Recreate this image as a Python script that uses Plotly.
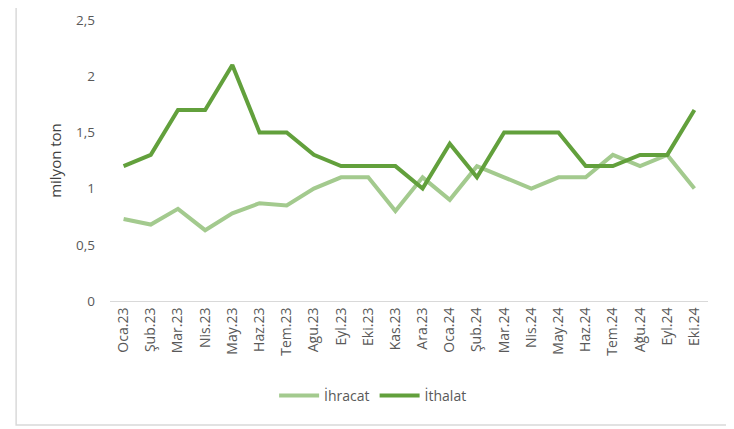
import plotly.graph_objects as go

months = ["Oca.23", "Şub.23", "Mar.23", "Nis.23", "May.23", "Haz.23", "Tem.23", "Agu.23",
          "Eyl.23", "Eki.23", "Kas.23", "Ara.23", "Oca.24", "Şub.24", "Mar.24", "Nis.24",
          "May.24", "Haz.24", "Tem.24", "Ağu.24", "Eyl.24", "Eki.24"]
ihracat = [0.73, 0.68, 0.82, 0.63, 0.78, 0.87, 0.85, 1.0, 1.1, 1.1, 0.8, 1.1,
           0.9, 1.2, 1.1, 1.0, 1.1, 1.1, 1.3, 1.2, 1.3, 1.0]
ithalat = [1.2, 1.3, 1.7, 1.7, 2.1, 1.5, 1.5, 1.3, 1.2, 1.2, 1.2, 1.0,
           1.4, 1.1, 1.5, 1.5, 1.5, 1.2, 1.2, 1.3, 1.3, 1.7]
y_ticks = [0, 0.5, 1, 1.5, 2, 2.5]
y_tick_labels = ["0", "0,5", "1", "1,5", "2", "2,5"]

fig = go.Figure()
fig.add_trace(go.Scatter(x=months, y=ihracat, mode="lines", name="İhracat",
                         line=dict(color="#A3CA8E", width=4)))
fig.add_trace(go.Scatter(x=months, y=ithalat, mode="lines", name="İthalat",
                         line=dict(color="#62A03C", width=4)))

fig.update_layout(
    width=726, height=421,
    margin=dict(l=102, r=26, t=12, b=128),
    paper_bgcolor="white", plot_bgcolor="white",
    font=dict(family="Open Sans, Liberation Sans, sans-serif", size=12, color="#595959"),
    showlegend=True,
    legend=dict(orientation="h", x=0.44, xanchor="center", y=-0.338, yanchor="middle",
                font=dict(size=14, color="#595959"), itemwidth=40, tracegroupgap=0),
    xaxis=dict(type="category", range=[-0.5, len(months) - 0.5], tickangle=-90,
               showgrid=False, showline=True, automargin=False,
               linecolor="#D9D9D9", linewidth=1, ticks="", tickfont=dict(size=14),
               zeroline=False, fixedrange=True),
    yaxis=dict(range=[0, 2.5], tickvals=y_ticks, ticktext=y_tick_labels, showgrid=False,
               zeroline=False, showline=False, ticks="", ticklabelstandoff=14,
               tickfont=dict(size=13.5), automargin=False,
               title=dict(text="milyon ton", font=dict(size=15, color="#404040"), standoff=10)),
    shapes=[dict(type="rect", xref="paper", yref="paper", x0=-0.157, x1=1.037,
                 y0=-0.441, y1=1.1, line=dict(color="#D9D9D9", width=1.5),
                 fillcolor="rgba(0,0,0,0)", layer="below")],
)

fig.write_html("out.html")
